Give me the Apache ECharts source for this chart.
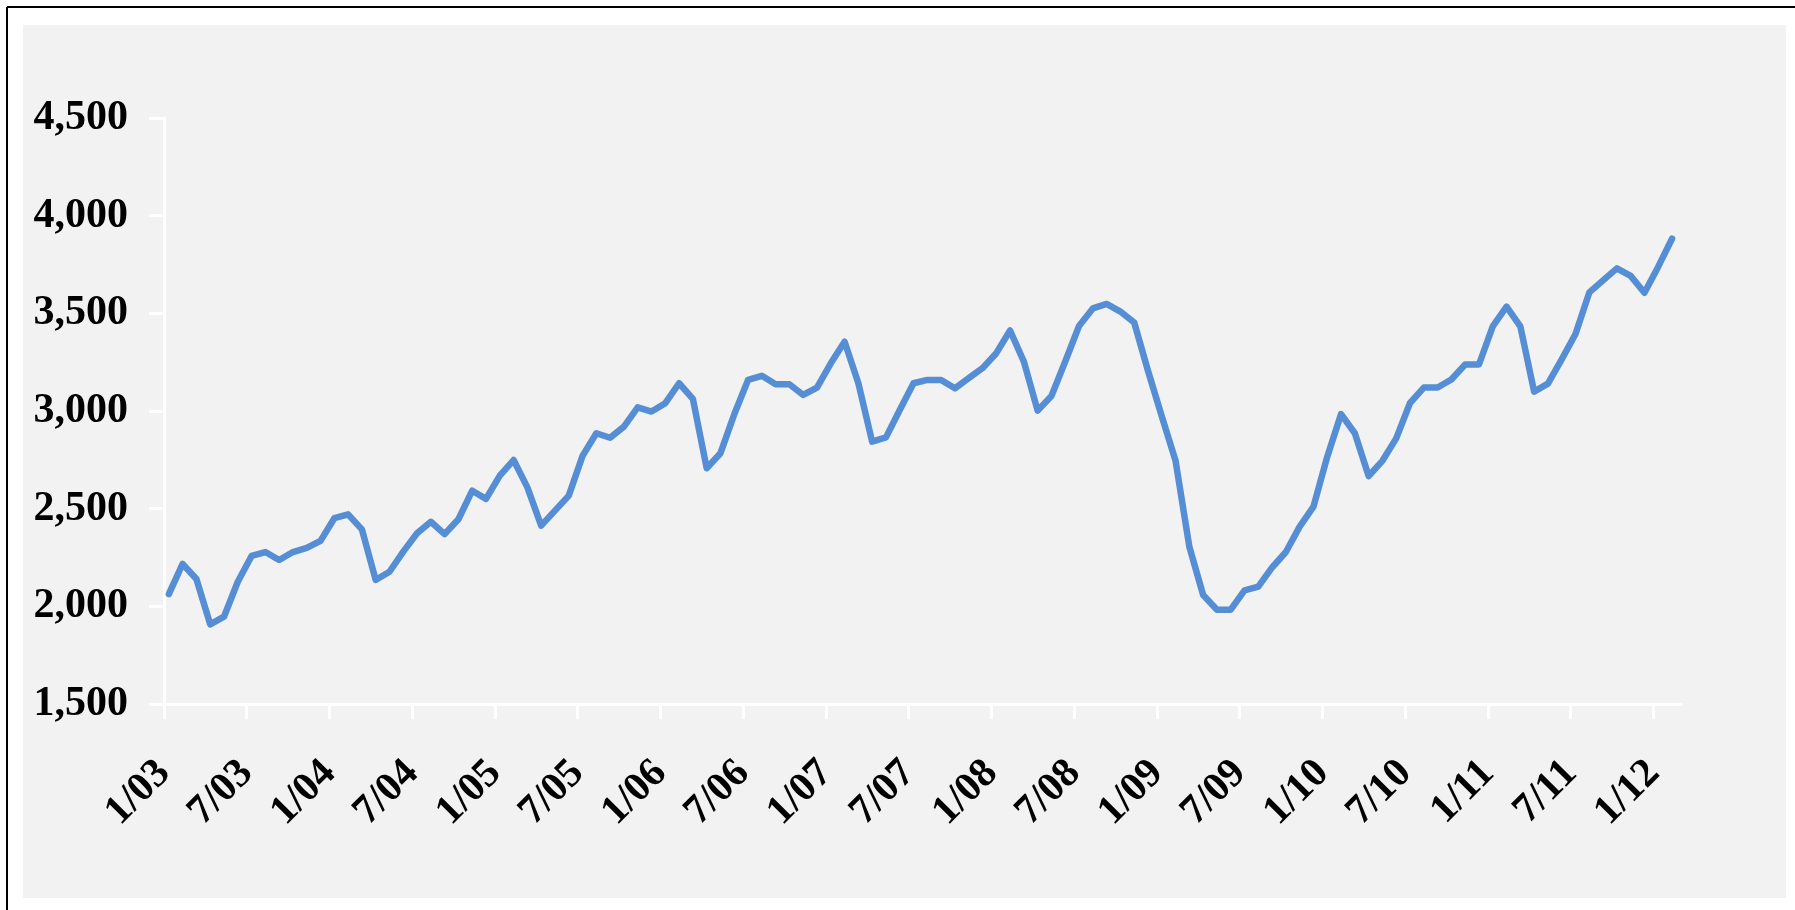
<!DOCTYPE html>
<html>
<head>
<meta charset="utf-8">
<title>Monthly series 1/03 - 2/12</title>
<script src="https://cdn.jsdelivr.net/npm/echarts@6/dist/echarts.min.js"></script>
<style>
  html, body { margin: 0; padding: 0; background: #fff; }
  #chart { width: 1795px; height: 910px; }
</style>
</head>
<body>
<div id="chart"></div>
<script>
// one value per month, Jan 2003 .. Feb 2012
const values = [
  2063, 2217, 2140, 1908, 1947, 2126, 2258, 2278, 2237, 2278, 2299, 2335, // 2003
  2451, 2471, 2394, 2135, 2177, 2280, 2374, 2433, 2370, 2446, 2592, 2550, // 2004
  2669, 2749, 2609, 2413, 2490, 2567, 2770, 2886, 2863, 2920, 3019, 2997, // 2005
  3040, 3142, 3062, 2707, 2784, 2983, 3159, 3180, 3137, 3137, 3082, 3120, // 2006
  3244, 3355, 3142, 2843, 2865, 3005, 3142, 3159, 3159, 3116, 3168, 3219, // 2007
  3296, 3412, 3253, 3002, 3077, 3253, 3435, 3525, 3548, 3509, 3453, 3206, // 2008
  2973, 2745, 2305, 2058, 1983, 1983, 2082, 2101, 2199, 2278, 2408, 2510, // 2009
  2766, 2984, 2886, 2667, 2745, 2860, 3041, 3120, 3120, 3161, 3238, 3238, // 2010
  3433, 3534, 3433, 3099, 3140, 3264, 3394, 3607, 3669, 3730, 3692, 3605, // 2011
  3739, 3882                                                              // 2012
];

// x axis counts months from 1/03
const tickMonths = [0, 6, 12, 18, 24, 30, 36, 42, 48, 54, 60, 66, 72, 78, 84, 90, 96, 102, 108];
const tickLabels = ['1/03', '7/03', '1/04', '7/04', '1/05', '7/05', '1/06', '7/06', '1/07', '7/07',
  '1/08', '7/08', '1/09', '7/09', '1/10', '7/10', '1/11', '7/11', '1/12'];

// points sit a little into their month, as on a date axis
const dayOffset = 0.35;

const font = '"Liberation Serif", "Times New Roman", serif';

const chart = echarts.init(document.getElementById('chart'));
chart.setOption({
  animation: false,
  backgroundColor: '#fff',
  graphic: [
    {
      type: 'rect',
      silent: true,
      z: -10,
      shape: { x: 23, y: 25, width: 1763, height: 873 },
      style: { fill: '#f2f2f2' },
    },
    {
      type: 'line',
      silent: true,
      shape: { x1: 7, y1: 7, x2: 1795, y2: 7 },
      style: { stroke: '#000', lineWidth: 2 },
    },
    {
      type: 'line',
      silent: true,
      shape: { x1: 7, y1: 7, x2: 7, y2: 910 },
      style: { stroke: '#000', lineWidth: 2 },
    },
  ],
  grid: {
    left: 164,
    right: 114,
    top: 118,
    bottom: 206,
  },
  xAxis: {
    type: 'value',
    min: 0,
    max: 110,
    axisLine: { show: true, lineStyle: { color: '#fff', width: 3 } },
    axisTick: {
      show: true,
      customValues: tickMonths,
      length: 15,
      lineStyle: { color: '#fff', width: 3 },
    },
    splitLine: { show: false },
    axisLabel: {
      customValues: tickMonths,
      rotate: 45,
      margin: 63,
      padding: [23, 0, 0, 0],
      color: '#000',
      fontFamily: font,
      fontWeight: 'bold',
      fontSize: 41,
      formatter: (v) => tickLabels[tickMonths.indexOf(v)] || '',
    },
  },
  yAxis: {
    type: 'value',
    min: 1500,
    max: 4500,
    interval: 500,
    axisLine: { show: true, lineStyle: { color: '#fff', width: 3 } },
    axisTick: { show: true, length: 15, lineStyle: { color: '#fff', width: 3 } },
    splitLine: { show: false },
    axisLabel: {
      margin: 36,
      color: '#000',
      fontFamily: font,
      fontWeight: 'bold',
      fontSize: 42,
      formatter: (v) => v.toLocaleString('en-US'),
    },
  },
  series: [{
    type: 'line',
    data: values.map((v, i) => [i + dayOffset, v]),
    showSymbol: false,
    lineStyle: { color: '#558ed5', width: 6.5, cap: 'round', join: 'round' },
  }],
});
</script>
</body>
</html>
